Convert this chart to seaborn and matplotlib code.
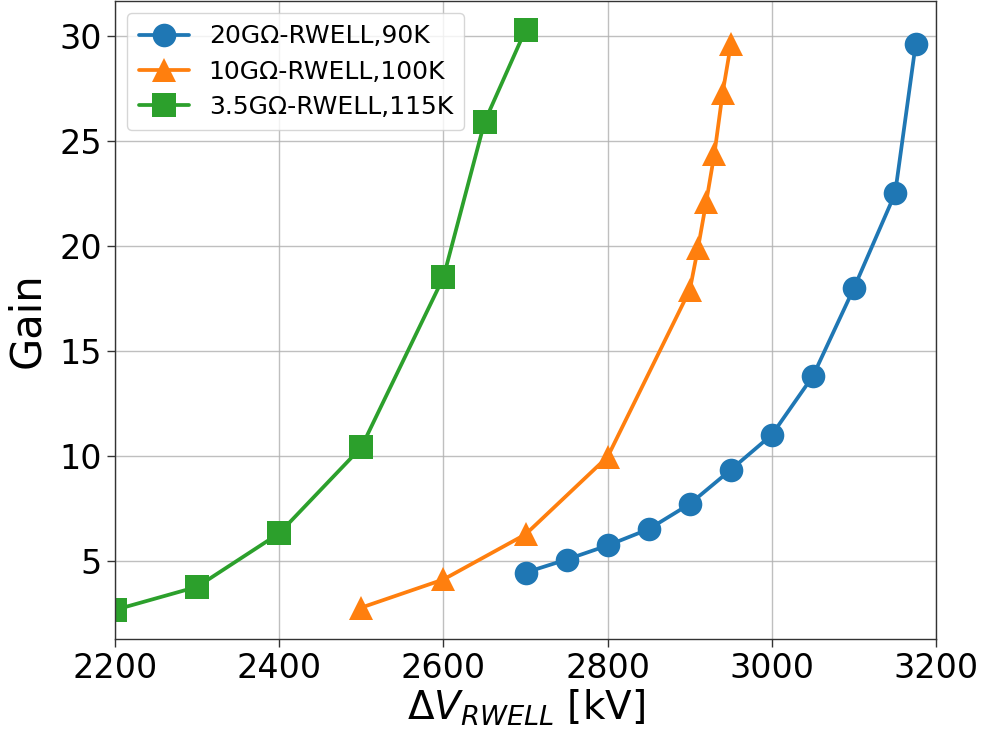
import matplotlib
matplotlib.use("Agg")
import matplotlib.pyplot as plt
import seaborn as sns
import pandas as pd

# Gain vs. RWELL voltage for three resistive layers
v_20g = [2700, 2750, 2800, 2850, 2900, 2950, 3000, 3050, 3100, 3150, 3175]
gain_20g = [4.43, 5.05, 5.72, 6.5, 7.7, 9.33, 11.0, 13.8, 18.0, 22.5, 29.6]

v_10g = [2500, 2600, 2700, 2800, 2900, 2910, 2920, 2930, 2940, 2950]
gain_10g = [2.76, 4.1, 6.25, 9.95, 17.9, 19.9, 22.1, 24.4, 27.3, 29.6]

v_35g = [2200, 2300, 2400, 2500, 2600, 2650, 2700]
gain_35g = [2.65, 3.75, 6.3, 10.4, 18.5, 25.9, 30.3]

labels = ["20GΩ-RWELL,90K", "10GΩ-RWELL,100K", "3.5GΩ-RWELL,115K"]
colors = ["#1f77b4", "#ff7f0e", "#2ca02c"]
markers = ["o", "^", "s"]
xticks = [2200, 2400, 2600, 2800, 3000, 3200]
yticks = [5, 10, 15, 20, 25, 30]

sns.set_style("ticks")
plt.rcParams["font.family"] = ["DejaVu Sans"]
plt.rcParams["text.color"] = "black"
plt.rcParams["axes.labelcolor"] = "black"
plt.rcParams["xtick.color"] = "black"
plt.rcParams["ytick.color"] = "black"

fig = plt.figure(figsize=(9.87, 7.31), dpi=100)
ax = fig.add_axes([0.1165, 0.126, 0.832, 0.873])

series = [(v_20g, gain_20g), (v_10g, gain_10g), (v_35g, gain_35g)]
for (xs, ys), lab, col, mk in zip(series, labels, colors, markers):
    df = pd.DataFrame({"V": xs, "Gain": ys})
    sns.lineplot(data=df, x="V", y="Gain", ax=ax, color=col, marker=mk,
                 markersize=17, markeredgewidth=0, linewidth=2.7,
                 label=lab, sort=False)

ax.set_xlim(2200, 3200)
ax.set_xticks(xticks)
ax.set_yticks(yticks)
ax.grid(True, color="#b0b0b0", linewidth=1.0, alpha=0.8)
ax.tick_params(axis="both", labelsize=24, length=6, width=1, color="#333333",
               labelcolor="black")
for sp in ax.spines.values():
    sp.set_color("#333333")
    sp.set_linewidth(1.0)

ax.set_xlabel(r"$\Delta V_{RWELL}$ [kV]", fontsize=28, labelpad=2, color="black")
ax.set_ylabel("Gain", fontsize=30, labelpad=8, color="black")

leg = ax.legend(loc="upper left", fontsize=18, frameon=True, handlelength=2.0,
                borderpad=0.45, labelspacing=0.45, handletextpad=0.8)
leg.get_frame().set_edgecolor("#cccccc")
for t in leg.get_texts():
    t.set_color("black")

fig.savefig("out.png", dpi=100)
